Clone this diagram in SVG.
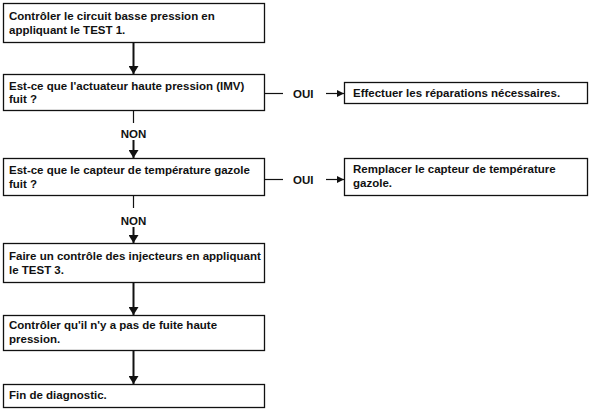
<svg xmlns="http://www.w3.org/2000/svg" width="594" height="412" viewBox="0 0 594 412">
<style>
.box{fill:#fff;stroke:#111;stroke-width:1.3}
.t{font-family:"Liberation Sans",Arial,sans-serif;font-weight:bold;font-size:11.5px;fill:#111}
.c{text-anchor:middle}
.ln{stroke:#111;stroke-width:1.2;fill:none}
.ar{stroke:#111;stroke-width:2;fill:none}
.ah{fill:#111}
</style>
<defs>
<marker id="h" viewBox="0 0 8 10" refX="8" refY="5" markerWidth="4" markerHeight="5" orient="auto" markerUnits="strokeWidth">
<path d="M0,0 L8,5 L0,10 Z" class="ah"/>
</marker>
<marker id="hs" viewBox="0 0 7 7" refX="7" refY="3.5" markerWidth="6" markerHeight="6" orient="auto" markerUnits="strokeWidth">
<path d="M0,0 L7,3.5 L0,7 Z" class="ah"/>
</marker>
</defs>
<rect width="594" height="412" fill="#fff"/>
<g id="n1"><rect class="box" x="3.5" y="3.5" width="261" height="39"/><text class="t" x="9" y="20">Contrôler le circuit basse pression en</text><text class="t" x="9" y="34">appliquant le TEST 1.</text></g>
<g id="n2"><rect class="box" x="3.5" y="74.5" width="261" height="36"/><text class="t" x="9" y="89.5">Est-ce que l'actuateur haute pression (IMV)</text><text class="t" x="9" y="103">fuit ?</text></g>
<g id="n3"><rect class="box" x="344.5" y="82.5" width="243" height="21"/><text class="t" x="353" y="97">Effectuer les réparations nécessaires.</text></g>
<g id="n4"><rect class="box" x="3.5" y="158.5" width="261" height="37"/><text class="t" x="9" y="173.5">Est-ce que le capteur de température gazole</text><text class="t" x="9" y="187.5">fuit ?</text></g>
<g id="n5"><rect class="box" x="344.5" y="158.5" width="243" height="37"/><text class="t" x="353" y="173">Remplacer le capteur de température</text><text class="t" x="353" y="187">gazole.</text></g>
<g id="n6"><rect class="box" x="3.5" y="243.5" width="261" height="39"/><text class="t" x="9" y="259.5">Faire un contrôle des injecteurs en appliquant</text><text class="t" x="9" y="273.5">le TEST 3.</text></g>
<g id="n7"><rect class="box" x="3.5" y="315.5" width="261" height="35"/><text class="t" x="9" y="329">Contrôler qu'il n'y a pas de fuite haute</text><text class="t" x="9" y="343">pression.</text></g>
<g id="n8"><rect class="box" x="3.5" y="384.5" width="261" height="23"/><text class="t" x="9" y="399">Fin de diagnostic.</text></g>
<g id="connectors">
<line class="ar" x1="133.5" y1="43" x2="133.5" y2="74" marker-end="url(#h)"/>
<line class="ln" x1="264.5" y1="93.5" x2="283" y2="93.5"/>
<text class="t" x="293" y="97.5">OUI</text>
<line class="ln" x1="326" y1="93.5" x2="344" y2="93.5" marker-end="url(#hs)"/>
<line class="ln" x1="133.5" y1="110.5" x2="133.5" y2="123"/>
<text class="t c" x="133.5" y="137.5">NON</text>
<line class="ar" x1="133.5" y1="140" x2="133.5" y2="158" marker-end="url(#h)"/>
<line class="ln" x1="264.5" y1="179.5" x2="283" y2="179.5"/>
<text class="t" x="293" y="183.5">OUI</text>
<line class="ln" x1="326" y1="179.5" x2="344" y2="179.5" marker-end="url(#hs)"/>
<line class="ln" x1="133.5" y1="195.5" x2="133.5" y2="208"/>
<text class="t c" x="133.5" y="224.5">NON</text>
<line class="ar" x1="133.5" y1="227" x2="133.5" y2="243" marker-end="url(#h)"/>
<line class="ar" x1="133.5" y1="283" x2="133.5" y2="315" marker-end="url(#h)"/>
<line class="ar" x1="133.5" y1="351" x2="133.5" y2="384" marker-end="url(#h)"/>
</g>
</svg>
